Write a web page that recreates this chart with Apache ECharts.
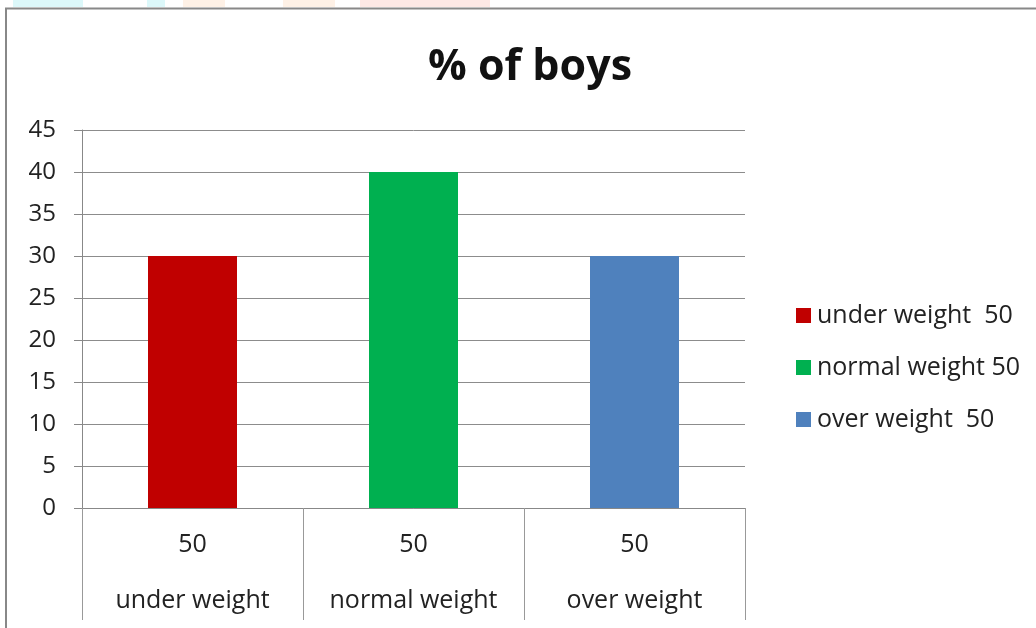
<!DOCTYPE html>
<html>
<head>
<meta charset="utf-8">
<script src="https://cdn.jsdelivr.net/npm/echarts@6/dist/echarts.min.js"></script>
<style>
  html, body { margin: 0; padding: 0; background: #ffffff; }
  #chart { width: 1036px; height: 628px; }
</style>
</head>
<body>
<div id="chart"></div>
<script>
// Chart content
const titleText = '% of boys';
const categories = ['under weight', 'normal weight', 'over weight'];
const groupLabels = ['50', '50', '50'];
const values = [30, 40, 30];
const legendNames = ['under weight  50', 'normal weight 50', 'over weight  50'];
const yTicks = { min: 0, max: 45, interval: 5 };

// Styling
const barColors = ['#c00000', '#00b050', '#4f81bd'];
const font = '"Open Sans", Lato, sans-serif';

// One series per category so each gets its own legend entry
const series = categories.map((c, i) => ({
  name: legendNames[i],
  type: 'bar',
  barWidth: 89,
  barGap: '-100%',
  itemStyle: { color: barColors[i] },
  data: categories.map((_, j) => (j === i ? values[i] : null))
}));

const chart = echarts.init(document.getElementById('chart'), null, { renderer: 'canvas' });
chart.setOption({
  backgroundColor: '#ffffff',
  animation: false,
  title: {
    text: titleText,
    left: 525,
    textAlign: 'center',
    top: 41,
    textStyle: { fontFamily: font, fontWeight: 'bold', fontSize: 43, color: '#111' }
  },
  legend: {
    orient: 'vertical',
    left: 791,
    top: 298,
    icon: 'rect',
    itemWidth: 15,
    itemHeight: 15,
    itemGap: 27,
    textStyle: { fontFamily: font, fontSize: 25, color: '#222', padding: [0, 0, 0, 1] },
    data: legendNames
  },
  grid: { left: 82, right: 291, top: 130, bottom: 120, containLabel: false },
  xAxis: {
    type: 'category',
    data: categories,
    axisLine: { show: true, lineStyle: { color: '#888', width: 1 } },
    axisTick: { show: true, length: 112, lineStyle: { color: '#999', width: 1 } },
    axisLabel: {
      margin: 9,
      interval: 0,
      formatter: (v, i) => '{a|' + groupLabels[i] + '}\n{b|' + v + '}',
      rich: {
        a: { fontFamily: font, fontSize: 25, color: '#222', lineHeight: 56 },
        b: { fontFamily: font, fontSize: 25, color: '#222', lineHeight: 56 }
      }
    }
  },
  yAxis: {
    type: 'value',
    min: yTicks.min,
    max: yTicks.max,
    interval: yTicks.interval,
    axisLine: { show: true, lineStyle: { color: '#888', width: 1 } },
    axisTick: { show: true, length: 8, lineStyle: { color: '#888' } },
    axisLabel: { margin: 26, fontFamily: font, fontSize: 24, color: '#222' },
    splitLine: { show: true, lineStyle: { color: '#8c8c8c', width: 1 } }
  },
  graphic: [
    // outer frame
    { type: 'polyline', silent: true,
      shape: { points: [[6, 628], [6, 8.5], [1036, 8.5]] },
      style: { stroke: '#888', lineWidth: 2, fill: null } },
    // faint coloured band above the frame
    { type: 'rect', silent: true, shape: { x: 13, y: 0, width: 70, height: 7 }, style: { fill: '#c4f3f7', opacity: 0.6 } },
    { type: 'rect', silent: true, shape: { x: 147, y: 0, width: 18, height: 7 }, style: { fill: '#c4f3f7', opacity: 0.6 } },
    { type: 'rect', silent: true, shape: { x: 183, y: 0, width: 42, height: 7 }, style: { fill: '#fde8d6', opacity: 0.6 } },
    { type: 'rect', silent: true, shape: { x: 283, y: 0, width: 52, height: 7 }, style: { fill: '#fde8d6', opacity: 0.6 } },
    { type: 'rect', silent: true, shape: { x: 360, y: 0, width: 130, height: 7 }, style: { fill: '#fbd8d4', opacity: 0.6 } }
  ],
  series: series
});
</script>
</body>
</html>
